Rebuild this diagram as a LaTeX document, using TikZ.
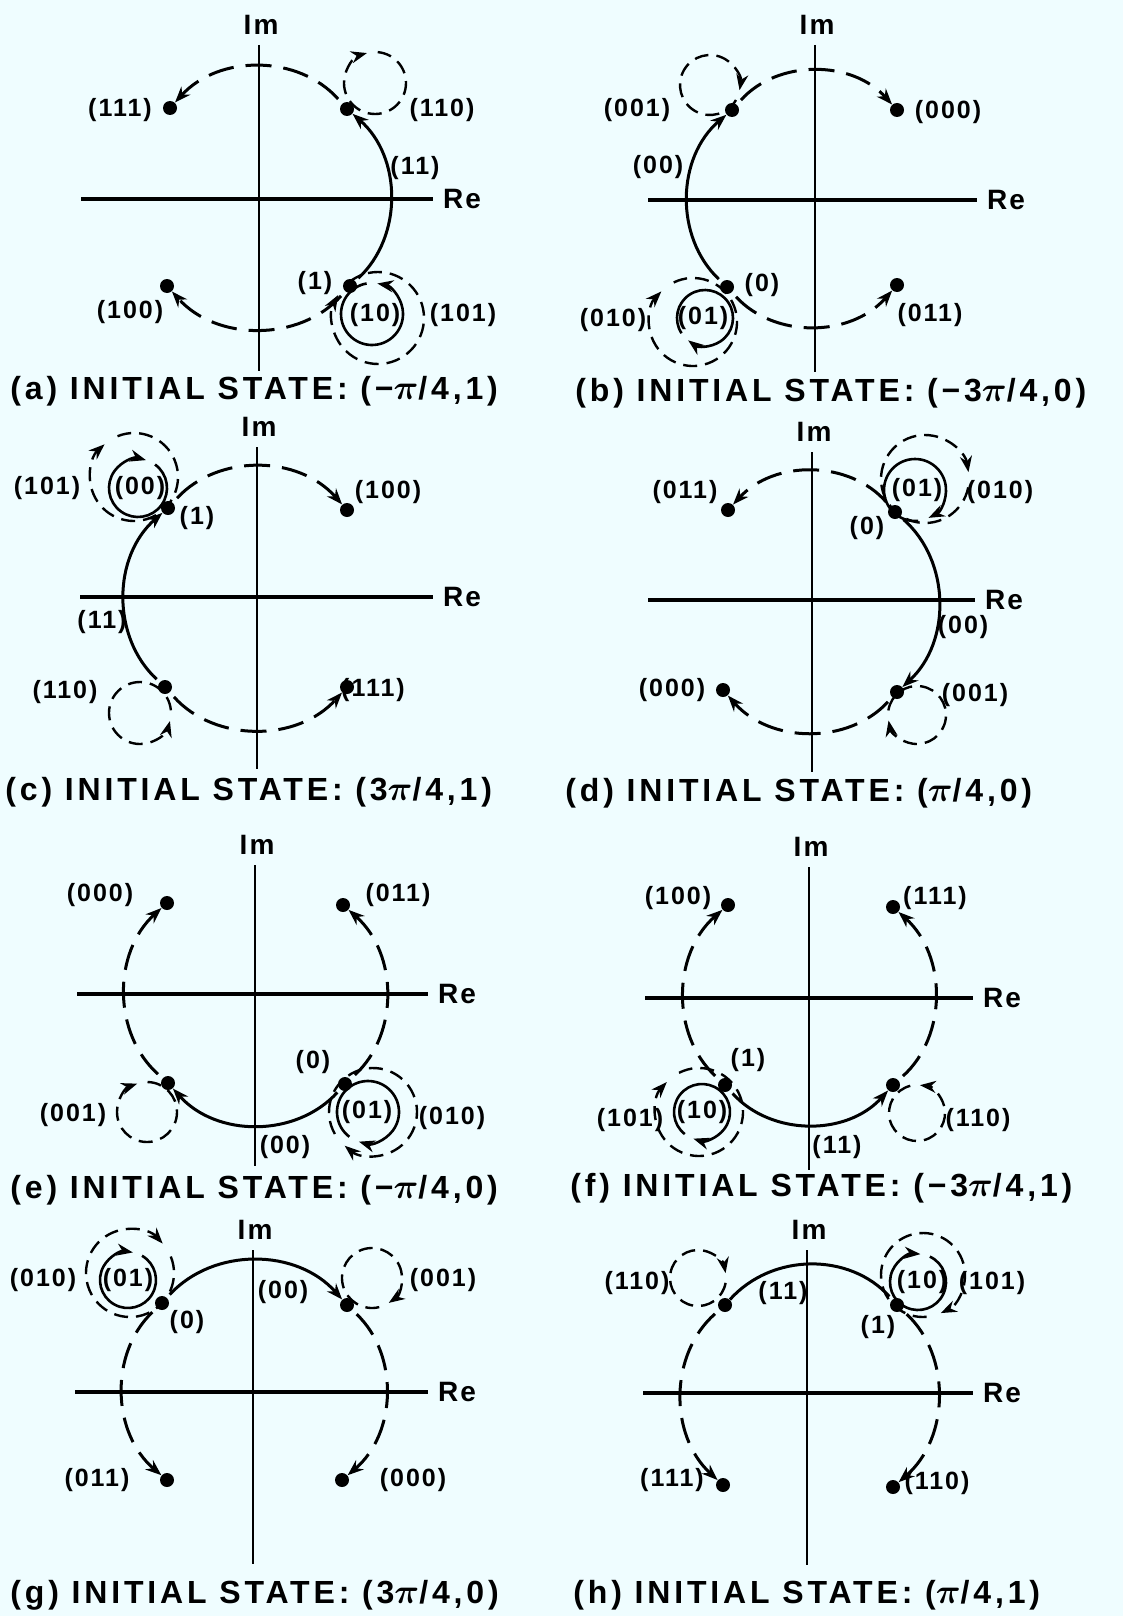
\documentclass[tikz,border=0pt]{standalone}
\usepackage{fontspec}
\setmainfont{Liberation Sans}
\newfontfamily\letfont[LetterSpace=8]{Liberation Sans}
\newfontfamily\wideletfont[LetterSpace=12]{Liberation Sans}
\usetikzlibrary{arrows.meta}
\definecolor{paper}{RGB}{239,253,255}

\begin{document}
\begin{tikzpicture}[x=0.5pt, y=0.5pt, >={Stealth[length=8pt,width=6pt]},
  axis/.style={line width=2pt},
  imaxis/.style={line width=1.4pt},
  dot/.style={circle, fill, inner sep=0pt, minimum size=7pt},
  lab/.style={font=\letfont\bfseries\fontsize{12.5}{14}\selectfont, inner sep=0pt},
  axlab/.style={font=\letfont\bfseries\fontsize{14}{16}\selectfont, inner sep=0pt},
  capline/.style={font=\wideletfont\bfseries\boldmath\fontsize{16}{18}\selectfont, anchor=west, inner sep=0pt},
  jump/.style={line width=1.5pt, dash pattern=on 13pt off 6pt, shorten <=3pt},
  move/.style={line width=1.5pt, shorten <=2pt},
  swirl/.style={line width=1.2pt, dash pattern=on 7pt off 4pt},
  ring/.style={line width=1.3pt}]
\fill[paper] (0,0) rectangle (1123,-1616);
\useasboundingbox (0,0) rectangle (1123,-1616);

% axes of the eight planes
\foreach \p/\ox/\oy/\hl/\hr/\vt in {a/259/199/178/174/154, b/815/200/167/162/155,
    c/257/597/177/176/150, d/812/600/164/163/148, e/255/994/178/173/129,
    f/809/998/164/164/131, g/253/1392/178/175/142, h/807/1393/164/166/143}{
  \draw[axis] (\ox-\hl,-\oy) -- (\ox+\hr,-\oy)
    node[axlab, anchor=west, xshift=4pt] (re\p) {Re};
  \draw[imaxis] (\ox,-\oy+\vt) -- (\ox,-\oy-172);
  \node[axlab] (im\p) at (\ox+2,-\oy+\vt+20) {Im};
}

% (a)
\node[dot] (a111) at (170,-108) {};
\node[dot] (a110) at (347,-109) {};
\node[dot] (a1) at (350,-286) {};
\node[dot] (a100) at (167,-286) {};
\node[lab] (ta111) at (120,-110) {(111)};
\node[lab] (ta110) at (442,-110) {(110)};
\node[lab] (ta11) at (415,-168) {(11)};
\node[lab] (ta1) at (315,-283) {(1)};
\node[lab] (ta10) at (375,-315) {(10)};
\node[lab] (ta101) at (463,-315) {(101)};
\node[lab] (ta100) at (130,-312) {(100)};
\draw[jump,->] (a110) to[bend right=48] (a111);
\draw[jump,->] (a1) to[bend left=48] (a100);
\draw[move,->] (a1) to[bend right=48] (a110);
\draw[swirl,->] (375,-83) ++(445:31) arc[start angle=445, end angle=105, radius=31];
\draw[ring,->] (372,-314) ++(-260:31) arc[start angle=-260, end angle=80, radius=31];
\draw[swirl,->] (378,-318) ++(490:46) arc[start angle=490, end angle=150, radius=46];
\node[capline] (capa) at (10,-391) {(a) INITIAL STATE: (−$\pi$/4,1)};

% (b)
\node[dot] (b001) at (732,-110) {};
\node[dot] (b000) at (897,-110) {};
\node[dot] (b0) at (727,-287) {};
\node[dot] (b011) at (897,-285) {};
\node[lab] (tb001) at (637,-110) {(001)};
\node[lab] (tb000) at (948,-112) {(000)};
\node[lab] (tb00) at (658,-167) {(00)};
\node[lab] (tb0) at (762,-285) {(0)};
\node[lab] (tb010) at (613,-320) {(010)};
\node[lab] (tb01) at (703,-318) {(01)};
\node[lab] (tb011) at (930,-315) {(011)};
\draw[jump,->] (b001) to[bend left=48] (b000);
\draw[move,->] (b0) to[bend left=48] (b001);
\draw[jump,->] (b0) to[bend right=48] (b011);
\draw[swirl,->] (710,-85) ++(330:30) arc[start angle=330, end angle=-10, radius=30];
\draw[ring,->] (705,-318) ++(573:28) arc[start angle=573, end angle=233, radius=28];
\draw[swirl,->] (693,-322) ++(476:44) arc[start angle=476, end angle=136, radius=44];
\node[capline] (capb) at (575,-393) {(b) INITIAL STATE: (−3$\pi$/4,0)};

% (c)
\node[dot] (c1) at (168,-508) {};
\node[dot] (c100) at (347,-510) {};
\node[dot] (c110) at (165,-687) {};
\node[dot] (c111) at (347,-687) {};
\node[lab] (tc101) at (47,-488) {(101)};
\node[lab] (tc00) at (140,-488) {(00)};
\node[lab] (tc1) at (197,-518) {(1)};
\node[lab] (tc100) at (388,-492) {(100)};
\node[lab] (tc11) at (102,-622) {(11)};
\node[lab] (tc110) at (65,-692) {(110)};
\node[lab] (tc111) at (373,-690) {(111)};
\draw[jump,->] (c1) to[bend left=48] (c100);
\draw[move,->] (c110) to[bend left=48] (c1);
\draw[jump,->] (c110) to[bend right=48] (c111);
\draw[swirl,->] (140,-713) ++(-355:31) arc[start angle=-355, end angle=-15, radius=31];
\draw[ring,->] (138,-488) ++(414:29) arc[start angle=414, end angle=74, radius=29];
\draw[swirl,->] (134,-477) ++(472:44) arc[start angle=472, end angle=132, radius=44];
\node[capline] (capc) at (5,-792) {(c) INITIAL STATE: (3$\pi$/4,1)};

% (d)
\node[dot] (d0) at (895,-512) {};
\node[dot] (d011) at (728,-510) {};
\node[dot] (d000) at (723,-690) {};
\node[dot] (d001) at (897,-692) {};
\node[lab] (td011) at (685,-492) {(011)};
\node[lab] (td01) at (917,-490) {(01)};
\node[lab] (td010) at (1000,-492) {(010)};
\node[lab] (td0) at (867,-528) {(0)};
\node[lab] (td00) at (963,-627) {(00)};
\node[lab] (td000) at (672,-690) {(000)};
\node[lab] (td001) at (975,-695) {(001)};
\draw[jump,->] (d0) to[bend right=48] (d011);
\draw[move,->] (d0) to[bend left=48] (d001);
\draw[jump,->] (d001) to[bend left=48] (d000);
\draw[ring,->] (915,-490) ++(636:31) arc[start angle=636, end angle=296, radius=31];
\draw[swirl,->] (925,-479) ++(349:44) arc[start angle=349, end angle=9, radius=44];
\draw[swirl,->] (917,-715) ++(531:29) arc[start angle=531, end angle=191, radius=29];
\node[capline] (capd) at (565,-793) {(d) INITIAL STATE: ($\pi$/4,0)};

% (e)
\node[dot] (e000) at (167,-903) {};
\node[dot] (e011) at (343,-905) {};
\node[dot] (e001) at (168,-1083) {};
\node[dot] (e0) at (345,-1084) {};
\node[lab] (te000) at (100,-895) {(000)};
\node[lab] (te011) at (398,-895) {(011)};
\node[lab] (te0) at (313,-1062) {(0)};
\node[lab] (te01) at (367,-1112) {(01)};
\node[lab] (te010) at (452,-1118) {(010)};
\node[lab] (te001) at (73,-1115) {(001)};
\node[lab] (te00) at (285,-1147) {(00)};
\draw[jump,->] (e001) to[bend left=48] (e000);
\draw[jump,->] (e0) to[bend right=48] (e011);
\draw[move,->] (e0) to[bend left=48] (e001);
\draw[swirl,->] (147,-1112) ++(449:30) arc[start angle=449, end angle=109, radius=30];
\draw[ring,->] (368,-1112) ++(593:31) arc[start angle=593, end angle=253, radius=31];
\draw[swirl,->] (373,-1112) ++(570:44) arc[start angle=570, end angle=230, radius=44];
\node[capline] (cape) at (10,-1190) {(e) INITIAL STATE: (−$\pi$/4,0)};

% (f)
\node[dot] (f100) at (728,-905) {};
\node[dot] (f111) at (893,-907) {};
\node[dot] (f1) at (725,-1085) {};
\node[dot] (f110) at (893,-1085) {};
\node[lab] (tf100) at (678,-898) {(100)};
\node[lab] (tf111) at (935,-898) {(111)};
\node[lab] (tf1) at (748,-1060) {(1)};
\node[lab] (tf101) at (630,-1120) {(101)};
\node[lab] (tf10) at (702,-1112) {(10)};
\node[lab] (tf110) at (978,-1120) {(110)};
\node[lab] (tf11) at (837,-1147) {(11)};
\draw[jump,->] (f1) to[bend left=48] (f100);
\draw[jump,->] (f110) to[bend right=48] (f111);
\draw[move,->] (f1) to[bend right=48] (f110);
\draw[swirl,->] (917,-1113) ++(-256:28) arc[start angle=-256, end angle=84, radius=28];
\draw[ring,->] (702,-1112) ++(592:28) arc[start angle=592, end angle=252, radius=28];
\draw[swirl,->] (699,-1112) ++(477:44) arc[start angle=477, end angle=137, radius=44];
\node[capline] (capf) at (570,-1188) {(f) INITIAL STATE: (−3$\pi$/4,1)};

% (g)
\node[dot] (g0) at (162,-1303) {};
\node[dot] (g001) at (347,-1305) {};
\node[dot] (g011) at (167,-1480) {};
\node[dot] (g000) at (342,-1480) {};
\node[lab] (tg010) at (43,-1280) {(010)};
\node[lab] (tg01) at (128,-1280) {(01)};
\node[lab] (tg0) at (187,-1322) {(0)};
\node[lab] (tg00) at (283,-1292) {(00)};
\node[lab] (tg001) at (443,-1280) {(001)};
\node[lab] (tg011) at (97,-1480) {(011)};
\node[lab] (tg000) at (413,-1480) {(000)};
\draw[move,->] (g0) to[bend left=48] (g001);
\draw[jump,->] (g0) to[bend right=48] (g011);
\draw[jump,->] (g001) to[bend left=48] (g000);
\draw[swirl,->] (372,-1278) ++(644:30) arc[start angle=644, end angle=304, radius=30];
\draw[ring,->] (128,-1280) ++(420:28) arc[start angle=420, end angle=80, radius=28];
\draw[swirl,->] (130,-1273) ++(382:44) arc[start angle=382, end angle=42, radius=44];
\node[capline] (capg) at (10,-1595) {(g) INITIAL STATE: (3$\pi$/4,0)};

% (h)
\node[dot] (h110) at (725,-1305) {};
\node[dot] (h1) at (897,-1305) {};
\node[dot] (h111) at (723,-1485) {};
\node[dot] (h110b) at (893,-1487) {};
\node[lab] (th110) at (637,-1283) {(110)};
\node[lab] (th11) at (783,-1293) {(11)};
\node[lab] (th10) at (922,-1282) {(10)};
\node[lab] (th101) at (992,-1283) {(101)};
\node[lab] (th1) at (878,-1327) {(1)};
\node[lab] (th111) at (672,-1480) {(111)};
\node[lab] (th110b) at (937,-1483) {(110)};
\draw[move] (h1) to[bend right=48] (h110);
\draw[jump,->] (h110) to[bend right=48] (h111);
\draw[jump,->] (h1) to[bend left=48] (h110b);
\draw[swirl,->] (698,-1278) ++(350:28) arc[start angle=350, end angle=10, radius=28];
\draw[ring,->] (918,-1282) ++(425:28) arc[start angle=425, end angle=85, radius=28];
\draw[swirl,->] (923,-1275) ++(635:42) arc[start angle=635, end angle=295, radius=42];
\node[capline] (caph) at (573,-1595) {(h) INITIAL STATE: ($\pi$/4,1)};
\end{tikzpicture}
\end{document}
